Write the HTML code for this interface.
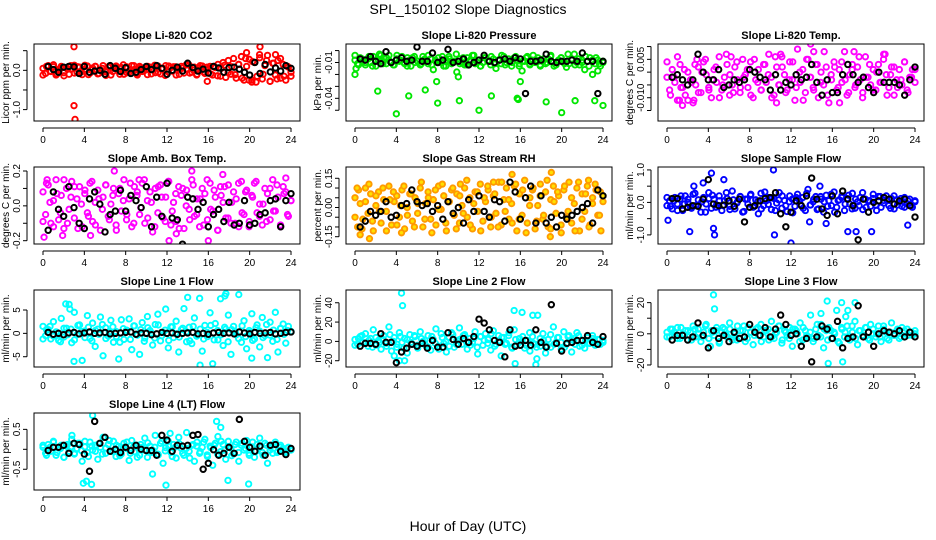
<!DOCTYPE html>
<html><head><meta charset="utf-8"><style>
body{margin:0;background:#fff}
svg{display:block;font-family:"Liberation Sans",sans-serif}
</style></head><body>
<svg id="chart" width="936" height="540" viewBox="0 0 936 540" xmlns="http://www.w3.org/2000/svg">
<text x="468" y="14" text-anchor="middle" font-size="14">SPL_150102  Slope Diagnostics</text>
<text x="468" y="531" text-anchor="middle" font-size="14">Hour of Day (UTC)</text>
</svg>
<script>
const xTicks=[0,4,8,12,16,20,24];
// Panel 1 CO2
const co2Vals=[0.05,-0.08,0.12,-0.03,0.09,-0.12,0.02,0.1,-0.06,0.07,-0.1,0.04,0.13,-0.05,0.08,-0.11,0.03,0.11,-0.07,0.06,0.1,-0.09,0.01,0.12,-0.04,0.08,-0.12,0.05,0.11,-0.02,0.07,-0.1,0.09,-0.05,0.12,0.02,-0.08,0.1,-0.03,0.06,-0.11,0.08,0.03,-0.06,0.11,-0.09,0.05,0.12,-0.04,0.07,0.09,-0.12,0.04,0.1,-0.07,0.02,0.13,-0.05,0.08,-0.1,0.06,0.11,-0.08,0.03,0.1,-0.12,0.07,0.15,-0.15,0.2,-0.18,0.25,-0.1,0.3,-0.2,0.15,0.35,-0.25,0.1,0.28,-0.3,0.2,-0.15,0.32,-0.22,0.12,0.38,-0.28,0.18,-0.12,0.25,-0.2,0.15,-0.25,0.08,-0.15];
const co2Vals2=[-0.12,0.1,-0.02,0.14,-0.09,0.06,-0.14,0.03,0.12,-0.07,0.09,-0.04,0.13,-0.11,0.01,0.1,-0.08,0.05,-0.13,0.11,-0.03,0.08,-0.1,0.14,-0.06,0.02,0.12,-0.12,0.07,-0.01,0.1,-0.09,0.13,-0.05,0.04,-0.13,0.11,-0.02,0.09,-0.1,0.06,0.14,-0.07,0.01,-0.12,0.12,-0.04,0.08,-0.09,0.1,-0.14,0.05,0.13,-0.06,0.09,-0.11,0.15,-0.2,0.3,-0.25,0.22,-0.3,0.4,-0.1,0.25,-0.28,0.18,-0.22,0.3,-0.15,0.1,-0.05];
const co2OutHours=[3.0,3.0,3.1,21.0,15.9,22.5,19.7,20.2];
const co2OutVals=[0.6,-0.9,-1.25,0.6,-0.28,0.4,0.45,-0.25];
const co2Black=[0.1,0.02,-0.05,0.08,0.1,0.09,-0.08,0.1,-0.05,-0.02,0,-0.1,0.12,0.05,-0.03,0.07,-0.08,-0.05,0.02,0.1,0.02,0.12,0.05,-0.1,0,0.08,-0.02,0.18,0.07,-0.02,0.03,-0.07,0.1,0.06,-0.05,0.07,0.08,0.03,-0.05,-0.12,0.2,-0.08,0.15,-0.04,0.06,-0.02,0.12,0.05];
// Panel 2 Pressure
const presVals=[-0.008,-0.011,-0.006,-0.009,-0.012,-0.007,-0.01,-0.005,-0.013,-0.008,-0.009,-0.006,-0.011,-0.004,-0.01,-0.012,-0.007,-0.009,-0.005,-0.011,-0.013,-0.008,-0.006,-0.01,-0.009,-0.012,-0.005,-0.008,-0.011,-0.007,-0.016,-0.009,-0.006,-0.01,-0.013,-0.008,-0.005,-0.011,-0.009,-0.018,-0.007,-0.01,-0.012,-0.006,-0.009,-0.004,-0.011,-0.008,-0.013,-0.01,-0.006,-0.009,-0.012,-0.007,-0.015,-0.008,-0.011,-0.005,-0.01,-0.009,-0.013,-0.006,-0.008,-0.011,-0.017,-0.009,-0.005,-0.012,-0.008,-0.01,-0.006,-0.013,-0.009,-0.011,-0.007,-0.004,-0.01,-0.012,-0.008,-0.006,-0.009,-0.014,-0.011,-0.007,-0.003,-0.01,-0.012,-0.008,-0.016,-0.009,-0.006,-0.02,-0.011,-0.008,-0.013,-0.01];
const presVals2=[-0.004,-0.012,-0.007,-0.01,-0.005,-0.013,-0.008,-0.003,-0.011,-0.006,-0.009,-0.012,-0.004,-0.008,-0.01,-0.006,-0.013,-0.005,-0.009,-0.011,-0.007,-0.004,-0.012,-0.008,-0.01,-0.005,-0.013,-0.007,-0.009,-0.003,-0.011,-0.006,-0.012,-0.008,-0.004,-0.01,-0.013,-0.006,-0.009,-0.005,-0.011,-0.008,-0.004,-0.012,-0.007,-0.01,-0.005,-0.013,-0.009,-0.006,-0.011,-0.004,-0.008,-0.012,-0.007,-0.01,-0.005,-0.013,-0.009,-0.006,-0.011,-0.003,-0.008,-0.012,-0.007,-0.01,-0.005,-0.013,-0.008,-0.006,-0.011,-0.009];
const presOutHours=[0,0.1,2.2,4,5.2,6.8,7.9,8,10,10.1,12,13.2,15.7,15.8,16,18.5,20,21.3,23.2,24,2.5,23.5];
const presOutVals=[-0.02,-0.015,-0.034,-0.053,-0.038,-0.033,-0.026,-0.044,-0.022,-0.042,-0.05,-0.038,-0.04,-0.041,-0.026,-0.043,-0.052,-0.042,-0.042,-0.046,-0.004,-0.017];
const presBlack=[-0.007,-0.008,-0.005,-0.009,-0.011,-0.001,-0.01,-0.008,-0.006,-0.009,-0.008,0.003,-0.009,-0.009,-0.002,-0.01,-0.008,0.001,-0.01,-0.009,-0.007,-0.012,-0.01,-0.008,-0.004,-0.009,-0.01,-0.008,-0.007,-0.009,-0.006,-0.007,-0.036,-0.009,-0.009,-0.008,-0.003,-0.009,-0.01,-0.009,-0.009,-0.008,-0.009,-0.002,-0.009,-0.009,-0.036,-0.009];
// Panel 3 Li-820 Temp
const tempVals=[-0.002,-0.007,0.001,-0.004,-0.011,0.003,-0.006,-0.009,0,-0.003,-0.012,-0.005,0.002,-0.008,0.004,-0.001,-0.006,-0.01,0.001,-0.004,0.006,-0.007,-0.002,0.003,-0.009,-0.005,0.002,-0.003,-0.008,0.005,-0.001,-0.006,0.004,-0.01,-0.003,0.001,-0.007,0.003,-0.004,0.007,-0.002,-0.009,0.002,-0.005,0.006,-0.001,-0.007,0.004,-0.003,-0.011,0.009,-0.004,0.001,-0.008,0.005,-0.002,-0.006,0.003,-0.01,0,-0.005,0.002,-0.012,-0.003,0.004,-0.007,0.001,-0.004,0.008,-0.009,-0.001,0.003,-0.006,0.002,-0.003,-0.008,0.006,-0.002,-0.005,0.001,-0.007,0.003,-0.004,0.007,-0.001,-0.006,0.002,-0.009,-0.003,0.001,-0.005,0.004,-0.007,-0.002,0.001,-0.004];
const tempVals2=[0.004,-0.009,-0.002,0.006,-0.006,0.001,-0.011,-0.004,0.003,-0.008,0,0.005,-0.007,-0.003,0.002,-0.01,-0.005,0.007,-0.001,-0.008,0.004,-0.006,-0.002,0.001,-0.009,0.005,-0.004,-0.007,0.003,-0.001,-0.01,0.006,-0.005,0.002,-0.008,-0.003,0.004,-0.006,0,-0.011,0.005,-0.002,-0.007,0.003,-0.004,0.008,-0.009,-0.001,0.002,-0.006,0.004,-0.003,-0.008,0.001,-0.005,0.006,-0.01,-0.002,0.003,-0.007,0,-0.004,0.005,-0.009,-0.001,0.002,-0.006,-0.003,0.004,-0.008,-0.002,0.001];
const tempOutHours=[1.5,1.2,2.9,13.9,6.2,14.2,10.6,16.7,18.1,21.1,11.0,2.6];
const tempOutVals=[-0.013,-0.011,0.005,0.011,0.006,0.008,-0.012,-0.012,0.008,0.007,0.007,-0.011];
const tempBlack=[-0.002,-0.001,-0.003,-0.005,-0.003,0.007,0,-0.003,-0.003,0.001,-0.006,-0.005,-0.003,-0.004,-0.003,0.001,0,-0.002,-0.003,-0.007,-0.001,-0.007,-0.004,-0.005,-0.001,-0.003,-0.002,0.003,-0.004,-0.009,-0.003,-0.008,-0.008,-0.001,0.003,-0.001,-0.004,-0.002,-0.006,-0.008,0,-0.004,-0.004,-0.004,-0.005,-0.009,-0.003,0.002];
// Panel 4 Amb Box Temp
const ambVals=[0.08,-0.05,0.12,-0.1,0.03,0.15,-0.08,0.06,-0.13,0.1,-0.02,0.14,-0.07,0.04,0.11,-0.12,0.07,-0.04,0.13,-0.09,0.02,0.09,-0.14,0.05,0.12,-0.06,0.01,0.1,-0.11,0.07,-0.03,0.15,-0.08,0.04,-0.12,0.11,0.06,-0.05,0.13,-0.1,0.03,0.08,-0.15,0.1,-0.04,0.12,-0.07,0.05,0.14,-0.11,0.02,-0.09,0.11,0.06,-0.13,0.09,-0.02,0.15,-0.06,0.04,-0.12,0.1,0.07,-0.08,0.13,-0.03,0.05,-0.14,0.11,0.02,-0.07,0.12,-0.1,0.08,0.04,-0.12,0.14,-0.05,0.09,-0.09,0.06,0.13,-0.04,0.01,-0.11,0.1,0.07,-0.08,0.15,-0.03,0.05,-0.12,0.11,0.08,-0.06,0.03];
const ambVals2=[-0.09,0.13,0.02,-0.12,0.07,-0.04,0.15,-0.1,0.05,0.11,-0.13,0.01,0.09,-0.06,0.14,-0.11,0.04,-0.02,0.12,-0.08,0.06,-0.14,0.1,0.03,-0.05,0.13,-0.1,0.08,-0.01,0.15,-0.07,0.02,-0.12,0.11,0.05,-0.09,0.14,-0.03,0.07,-0.13,0.1,0,-0.08,0.12,-0.05,0.04,-0.11,0.15,-0.02,0.09,-0.14,0.06,0.11,-0.07,0.02,-0.1,0.13,-0.04,0.08,-0.12,0.05,0.14,-0.06,0.01,-0.09,0.1,-0.03,0.12,-0.11,0.07,-0.05,0.03];
const ambOutHours=[0.1,6.9,12.2,14.4,16,17.4,12.9,23.5,9.3,4.6,0.4,1.9];
const ambOutVals=[-0.18,0.2,-0.2,0.2,-0.2,0.18,-0.16,0.16,0.15,-0.17,0.15,-0.17];
const ambBlack=[-0.14,0.08,-0.02,-0.06,0.11,-0.01,-0.1,-0.13,0.04,0.08,0.01,-0.15,-0.05,-0.03,0.09,-0.03,0.06,0.03,-0.01,0.11,-0.12,0.05,-0.06,0.13,-0.07,-0.08,-0.22,0.05,0.04,-0.02,0.02,-0.12,-0.05,-0.02,-0.09,0.02,-0.11,-0.1,0.03,-0.11,-0.1,-0.05,-0.04,0.03,0.04,-0.12,0.03,0.07];
// Panel 5 Gas Stream RH
const rhVals=[0.05,-0.1,0.02,-0.06,0.1,-0.03,0.07,-0.12,0.01,0.08,-0.08,0.04,-0.02,0.11,-0.09,0.03,0.06,-0.05,0.09,-0.11,0,0.07,-0.07,0.05,-0.03,0.1,-0.1,0.02,0.08,-0.06,0.04,-0.09,0.11,-0.01,0.06,-0.12,0.03,0.09,-0.04,0.07,-0.08,0.01,0.1,-0.05,0.05,-0.11,0.08,-0.02,0.12,-0.07,0.03,0.09,-0.1,0.06,-0.03,0.13,-0.09,0.04,0.1,-0.06,0.02,0.11,-0.12,0.07,-0.04,0.14,-0.08,0.05,0.09,-0.11,0.01,0.12,-0.06,0.08,-0.1,0.04,0.11,-0.03,0.06,-0.13,0.09,-0.05,0.13,-0.08,0.02,0.1,-0.12,0.07,-0.02,0.11,-0.09,0.05,0.12,-0.04,0.08,0.03];
const rhVals2=[-0.05,0.09,-0.11,0.03,0.12,-0.07,0.06,-0.02,0.1,-0.12,0.04,0.08,-0.09,0.01,0.11,-0.04,0.07,-0.1,0.02,0.13,-0.06,0.05,-0.13,0.09,-0.01,0.12,-0.08,0.03,0.1,-0.11,0.06,-0.03,0.14,-0.09,0.02,0.08,-0.12,0.05,0.11,-0.05,0.07,-0.1,0.13,-0.02,0.04,-0.08,0.12,-0.06,0.09,-0.13,0.01,0.1,-0.07,0.06,-0.04,0.14,-0.11,0.03,0.08,-0.09,0.11,-0.02,0.05,-0.12,0.13,-0.06,0.07,-0.1,0.02,0.09,-0.04,0.06];
const rhOutHours=[0.5,1.4,4.5,10.2,13.4,15.2,19,18.9,22.6,23.8,0.2];
const rhOutVals=[-0.14,-0.16,-0.13,0.12,0.13,0.17,0.18,-0.15,0.14,-0.12,0.1];
const rhBlack=[-0.1,-0.07,-0.02,-0.04,-0.02,0.03,-0.05,-0.04,0.01,0.02,0.09,0.03,0.01,0.02,-0.02,0.01,-0.06,0.03,-0.03,0,-0.08,0.04,-0.02,0.06,-0.02,-0.05,0.04,0.03,-0.07,0.13,0.08,-0.06,0.05,0.11,-0.08,0.06,-0.08,-0.05,-0.1,-0.04,-0.06,-0.04,-0.02,0,0.02,-0.08,0.09,0.06];
// Panel 6 Sample Flow
const sfVals=[-0.1,0.05,-0.2,0.15,-0.05,0.1,-0.25,0.2,0,-0.15,0.25,-0.1,0.08,-0.3,0.15,-0.05,0.3,-0.18,0.1,-0.08,0.2,-0.25,0.05,0.12,-0.12,0.35,-0.2,0.02,0.18,-0.3,0.1,-0.05,0.22,-0.15,0.08,-0.35,0.28,-0.1,0.05,0.15,-0.22,0.12,-0.02,0.3,-0.18,0.06,-0.28,0.2,0.1,-0.12,0.25,-0.05,0.15,-0.25,0.4,-0.08,0.02,0.18,-0.2,0.1,-0.3,0.22,0.05,-0.1,0.32,-0.15,0.08,0.2,-0.25,0.12,-0.05,0.28,-0.18,0.02,0.15,-0.22,0.1,0.05,-0.12,0.25,-0.08,0.18,-0.15,0.06,0.2,-0.1,0.12,-0.2,0.08,0.02,-0.12,0.15,-0.05,0.1,-0.15,0.05];
const sfVals2=[0.15,-0.12,0.05,-0.25,0.2,-0.05,0.1,-0.18,0.28,-0.08,0.02,-0.3,0.12,0.22,-0.15,0.05,-0.1,0.3,-0.22,0.08,-0.02,0.18,-0.28,0.1,0.25,-0.12,0.04,-0.2,0.32,-0.06,0.14,-0.25,0.08,0.2,-0.1,0.02,-0.32,0.15,0.05,-0.18,0.28,-0.08,0.1,-0.22,0.18,0.02,-0.12,0.25,-0.3,0.06,0.15,-0.05,0.22,-0.2,0.1,-0.1,0.3,-0.15,0.05,0.12,-0.25,0.18,-0.02,0.08,-0.18,0.2,-0.08,0.12,-0.15,0.05,-0.1,0.02];
const sfOutHours=[2.2,2.6,4.3,4.5,4.6,10.3,10.4,12,13.8,14.8,15.4,17.5,18.3,19.8,23.3,0.1,5.5,3.5];
const sfOutVals=[-0.9,0.5,0.9,-0.8,-1.0,1.0,-1.0,-1.25,-0.6,0.5,-0.65,-0.9,-0.9,-0.9,-0.7,-0.55,0.7,0.6];
const sfBlack=[0.12,0.12,-0.2,-0.15,-0.1,-0.12,0.1,0.7,-0.05,-0.1,-0.08,0.05,-0.12,0.1,-0.6,-0.15,-0.1,0.05,0.12,0.15,0.3,-0.35,-0.75,-0.3,0.05,-0.1,0.2,0.75,0.1,-0.2,-0.4,0.2,-0.35,0.35,0.1,-0.1,-1.15,0.1,-0.3,0,0.05,0.15,0.1,-0.05,0.05,0.1,-0.1,-0.45];
// Panel 7 Line 1
const l1Vals=[1.5,-0.5,0.8,-1.2,2.5,0.3,-1.5,3.2,-0.8,1.1,6.2,-2,4.5,-0.3,1.8,-5.8,0.5,3.8,-1.1,2.2,-2.8,0.9,3.5,-4.8,1.2,-0.6,2.8,-1.9,0.4,-5.5,2.9,-1.3,0.7,3.1,-3.5,1.6,-0.2,-4.5,2.3,-1,3.6,0.6,-2.5,1.9,4.1,-1.6,0.2,5.2,-3.1,1.4,-0.9,2.6,-4,0.8,5.3,-1.8,1.3,-2.2,3.3,-0.4,7.5,-3.8,1.7,-0.7,4.4,-6.5,2.1,-1.4,7.4,-2.6,0.9,3.9,-4.5,1.5,-0.3,8.3,-1.9,2.7,-3.3,0.6,4.2,-1.2,1.8,-2.9,3.4,-0.5,-5.2,2.4,-1.7,4.5,-4,1.1,2,-2.1,1.5,0.4];
const l1Vals2=[-1.2,0.8,1.5,-0.6,0.2,-1.8,1.1,-0.3,0.9,-1.4,1.7,0.4,-0.9,1.3,-1.6,0.6,-0.2,1.9,-1.1,0.3,1.4,-0.7,-1.9,1,0.5,-1.3,1.6,-0.4,0.8,-1.7,1.2,0.1,-1,1.8,-0.5,0.7,-1.5,1.4,-0.1,-0.8,1.1,0.3,-1.6,1.5,-0.6,0.9,-1.2,0.2,1.7,-1.4,0.6,-0.3,1.3,-1.8,0.8,0.4,-1.1,1.6,-0.7,0.2,-1.5,1.2,0.5,-0.9,1.9,-0.4,0.7,-1.3,1,-0.2,0.6,0.3];
const l1OutHours=[2.2,2.6,3,15.2,17.6,17.7,14,20.2];
const l1OutVals=[6.3,5.2,-6,-6.8,8,8.5,7.7,-5.3];
const l1Black=[0.2,-0.2,0,-0.3,0.1,0.2,-0.1,0.1,0.3,0,0.1,0.2,-0.1,0,0.1,0.2,0.3,-0.2,0.1,0,-0.3,-0.1,0.2,0,0.1,-0.2,0,0.1,0.2,-0.1,0,-0.2,0.1,0.2,0,0.1,-0.1,0.3,0.1,-0.1,0.2,0,0.1,0.2,-0.1,0,0.2,0.3];
// Panel 8 Line 2
const l2Vals=[2,-3,5,-1,8,-5,3,12,-4,1,-8,6,-2,15,-10,4,-6,9,-1,3,-12,7,-3,5,-7,10,0,-4,6,-9,2,13,-5,8,-2,-11,4,9,-6,1,14,-3,7,-8,3,-1,10,-13,5,-4,8,2,-9,11,-3,6,-15,4,-2,9,-6,12,-4,3,30,-7,1,-10,5,-3,27,-5,8,-12,2,-6,15,-1,4,-8,10,-3,6,-11,3,9,-5,1,-7,4,-2,6,-4,2,-3,1];
const l2Vals2=[-4,3,6,-2,1,-6,4,-1,2,-5,7,0,-3,5,-7,2,-1,6,-4,3,1,-6,5,-2,-8,4,0,-5,7,-3,2,6,-1,-4,3,-6,5,1,-2,8,-5,0,4,-3,6,-7,2,-1,5,-4,9,-2,-6,3,1,-5,7,-3,4,-1,-6,5,2,-3,6,-4,1,-2,3,-3,2,-1];
const l2OutHours=[4.5,4.6,4.8,15.4,15.5,17.2,17.5,17.6,4.3,3.8];
const l2OutVals=[50,37,-20,32,-23,27,-24,-18,-20,-15];
const l2Black=[-5,-2,-2,-3,8,-1,-1,-22,-11,-7,-3,-5,-2,-7,1,-6,-6,9,2,-3,3,-1,5,23,19,12,1,-1,-16,12,-5,-4,1,-4,12,-1,-6,38,-2,-10,-2,-1,1,1,6,-1,-3,5];
// Panel 9 Line 3
const l3Vals=[1,-2,3,-1,4,-3,0,2,-4,1,5,-2,3,-5,1,6,-3,2,-1,4,-6,1,3,-2,7,-4,0,5,-3,2,-5,4,1,-7,3,-1,6,-2,2,-4,8,-3,1,5,-6,2,-1,4,-8,3,0,7,-4,2,-2,12,-5,3,-1,6,-9,2,4,-3,1,15,-6,3,-2,5,-4,1,8,-7,2,-1,4,-3,6,0,-2,5,-5,3,1,-4,7,-1,2,-3,4,-2,3,1,-1,2];
const l3Vals2=[-2,3,1,-3,4,-1,2,-4,3,0,-2,5,-3,1,2,-5,4,-1,3,-2,-4,2,5,-3,1,-1,4,-5,2,3,-2,0,5,-4,1,-3,3,2,-5,4,-1,1,-3,6,-2,3,-4,2,0,-5,4,1,-2,5,-3,2,-1,4,-4,3,0,-2,5,-3,1,-1,3,-2,2,-1,1,0];
const l3OutHours=[4.5,4.6,14.9,15.5,15.6,16.9,17,17.5,17.3,18.2,4.2];
const l3OutVals=[25,16,13,21,-19,20,-18,15,11,20,-8];
const l3Black=[-4,-1,-1,-4,-2,7,-1,-9,2,-3,-1,-5,1,-3,-2,6,1,-1,4,-2,3,12,6,-1,0,-8,-3,-18,-2,5,3,-3,8,-9,-3,-2,18,-2,1,-8,0,2,1,0,2,-2,1,-2];
// Panel 10 Line 4
const l4Vals=[0.05,-0.1,0.12,-0.05,0.2,-0.15,0.03,0.1,-0.2,0.08,-0.05,0.25,-0.12,0.02,0.15,-0.3,0.06,-0.08,0.18,-0.02,0.1,-0.25,0.05,0.3,-0.1,0.12,-0.04,0.2,-0.18,0.07,-0.12,0.15,0.02,-0.28,0.22,-0.06,0.1,-0.15,0.05,0.28,-0.2,0.08,-0.02,0.35,-0.12,0.15,-0.35,0.04,0.2,-0.08,0.12,-0.22,0.3,0.02,-0.15,0.42,-0.05,0.1,-0.3,0.18,-0.1,0.05,0.25,-0.18,0.08,-0.4,0.15,0.32,-0.06,0.12,-0.25,0.2,0.03,-0.12,0.18,-0.3,0.1,-0.02,0.22,-0.15,0.06,-0.2,0.12,0.28,-0.08,0.15,-0.35,0.05,-0.1,0.18,-0.05,0.1,0.02,-0.08,0.05,-0.02];
const l4Vals2=[0.1,-0.15,0.05,0.18,-0.08,0.02,-0.2,0.12,0.06,-0.1,0.15,-0.03,0.2,-0.18,0.08,-0.05,0.14,-0.12,0.03,0.22,-0.06,0.1,-0.16,0.04,0.18,-0.1,0.07,-0.2,0.12,-0.02,0.16,-0.08,0.05,-0.14,0.2,-0.04,0.1,-0.18,0.06,0.14,-0.1,0.02,-0.22,0.12,0.08,-0.06,0.18,-0.14,0.04,0.1,-0.12,0.2,-0.02,0.06,-0.16,0.12,-0.08,0.15,0.02,-0.1,0.18,-0.05,0.08,-0.15,0.1,-0.02,0.12,-0.08,0.05,-0.06,0.03,0];
const l4OutHours=[3.9,4.2,4.8,4.7,10.6,11.9,16.8,17.2,17.9,19.9,2.8,12.3];
const l4OutVals=[-0.85,-0.8,0.85,-0.88,-0.62,-0.9,0.7,0.55,-0.78,-0.87,0.35,0.4];
const l4Black=[-0.03,0.05,0.05,0.1,-0.1,0.15,0.12,-0.12,-0.55,0.7,0.15,0.3,-0.05,0,-0.08,0.05,-0.03,0.1,0,-0.03,-0.03,-0.15,0.35,0.23,-0.05,0.1,0.08,0.1,0.35,0.37,-0.5,-0.35,-0.01,-0.15,-0.1,0.05,-0.1,0.75,0.2,0.05,-0.05,0.08,-0.15,0.1,0.12,-0.05,-0.13,0.02];

const panels=[
 {name:'co2',title:'Slope Li-820 CO2',ylab:'Licor ppm per min.',col:0,row:0,lo:-1.29,hi:0.67,ticks:[-1,-0.5,0,0.5],labels:[[-1,'-1.0'],[0,'0.0']],color:'#ff0000',vals:co2Vals,vals2:co2Vals2,oh:co2OutHours,ov:co2OutVals,black:co2Black},
 {name:'pressure',title:'Slope Li-820 Pressure',ylab:'kPa per min.',col:1,row:0,lo:-0.059,hi:0.0055,ticks:[0,-0.01,-0.02,-0.03,-0.04,-0.05],labels:[[-0.01,'-0.01'],[-0.04,'-0.04']],color:'#00e600',vals:presVals,vals2:presVals2,oh:presOutHours,ov:presOutVals,black:presBlack},
 {name:'li820-temp',title:'Slope Li-820 Temp.',ylab:'degrees C per min.',col:2,row:0,lo:-0.0191,hi:0.011,ticks:[0.01,0.005,0,-0.005,-0.01,-0.015],labels:[[0.005,'0.005'],[-0.01,'-0.010']],color:'#ff00ff',vals:tempVals,vals2:tempVals2,oh:tempOutHours,ov:tempOutVals,black:tempBlack},
 {name:'amb-box-temp',title:'Slope Amb. Box Temp.',ylab:'degrees C per min.',col:0,row:1,lo:-0.219,hi:0.223,ticks:[-0.2,-0.1,0,0.1,0.2],labels:[[-0.2,'-0.2'],[0,'0.0'],[0.2,'0.2']],color:'#ff00ff',vals:ambVals,vals2:ambVals2,oh:ambOutHours,ov:ambOutVals,black:ambBlack},
 {name:'gas-stream-rh',title:'Slope Gas Stream RH',ylab:'percent per min.',col:1,row:1,lo:-0.1875,hi:0.208,ticks:[-0.15,-0.1,-0.05,0,0.05,0.1,0.15],labels:[[-0.15,'-0.15'],[0,'0.00'],[0.15,'0.15']],color:'#ff9a00',fill:'#ffe000',vals:rhVals,vals2:rhVals2,oh:rhOutHours,ov:rhOutVals,black:rhBlack},
 {name:'sample-flow',title:'Slope Sample Flow',ylab:'ml/min per min.',col:2,row:1,lo:-1.28,hi:1.09,ticks:[-1,-0.5,0,0.5,1],labels:[[-1,'-1.0'],[0,'0.0'],[1,'1.0']],color:'#0000ff',vals:sfVals,vals2:sfVals2,oh:sfOutHours,ov:sfOutVals,black:sfBlack},
 {name:'line1-flow',title:'Slope Line 1 Flow',ylab:'ml/min per min.',col:0,row:2,lo:-7.2,hi:9.28,ticks:[-5,0,5],labels:[[-5,'-5'],[0,'0'],[5,'5']],color:'#00ffff',vals:l1Vals,vals2:l1Vals2,oh:l1OutHours,ov:l1OutVals,black:l1Black},
 {name:'line2-flow',title:'Slope Line 2 Flow',ylab:'ml/min per min.',col:1,row:2,lo:-26.5,hi:53.2,ticks:[-20,0,20,40],labels:[[-20,'-20'],[0,'0'],[20,'20'],[40,'40']],color:'#00ffff',vals:l2Vals,vals2:l2Vals2,oh:l2OutHours,ov:l2OutVals,black:l2Black},
 {name:'line3-flow',title:'Slope Line 3 Flow',ylab:'ml/min per min.',col:2,row:2,lo:-21.3,hi:28.1,ticks:[-20,-10,0,10,20],labels:[[-20,'-20'],[0,'0'],[20,'20']],color:'#00ffff',vals:l3Vals,vals2:l3Vals2,oh:l3OutHours,ov:l3OutVals,black:l3Black},
 {name:'line4-flow',title:'Slope Line 4 (LT) Flow',ylab:'ml/min per min.',col:0,row:3,lo:-1.02,hi:0.91,ticks:[-0.5,0,0.5],labels:[[-0.5,'-0.5'],[0.5,'0.5']],color:'#00ffff',vals:l4Vals,vals2:l4Vals2,oh:l4OutHours,ov:l4OutVals,black:l4Black}
];

const svg=document.getElementById('chart');
const NS='http://www.w3.org/2000/svg';
function mk(tag,attrs,parent){const e=document.createElementNS(NS,tag);for(const k in attrs)e.setAttribute(k,attrs[k]);parent.appendChild(e);return e;}

panels.forEach(p=>{
  const L=[34,346,658][p.col], T=[44,167,290,413][p.row], W=266, H=77;
  const xs=h=>L+9+h*(248/24);
  const ys=v=>T+H-(v-p.lo)/(p.hi-p.lo)*H;
  const g=mk('g',{},svg);
  
  
  const t=mk('text',{x:L+W/2,y:T-5,'text-anchor':'middle','font-size':'11','font-weight':'bold'},g);
  t.textContent=p.title;
  
  
  const cid='clip-'+p.name;
  const cp=mk('clipPath',{id:cid},g);
  mk('rect',{x:L,y:T,width:W,height:H},cp);
  const pts=mk('g',{'clip-path':'url(#'+cid+')'},g);
  
  
  [p.vals,p.vals2].forEach(arr=>{
    const n=arr.length;
    arr.forEach((v,i)=>{
      const c=mk('circle',{cx:xs(i*24/(n-1)),cy:ys(v),r:2.7,fill:p.fill||'none',stroke:p.color,'stroke-width':1.9},pts);
      
      
    });
  });
  p.oh.forEach((h,i)=>{
    const c=mk('circle',{cx:xs(h),cy:ys(p.ov[i]),r:2.7,fill:p.fill||'none',stroke:p.color,'stroke-width':1.9},pts);
    
    
  });
  p.black.forEach((v,i)=>{
    const c=mk('circle',{cx:xs(0.5*(i+1)),cy:ys(v),r:2.7,fill:'none',stroke:'#000','stroke-width':2},pts);
    
    
  });
  const box=mk('rect',{x:L,y:T,width:W,height:H,fill:'none',stroke:'#000','stroke-width':1},g);
  
  
  const xa=mk('g',{},g);
  
  
  mk('line',{x1:xs(0),x2:xs(24),y1:T+H+7,y2:T+H+7,stroke:'#000'},xa);
  xTicks.forEach(h=>{
    mk('line',{x1:xs(h),x2:xs(h),y1:T+H+7,y2:T+H+11,stroke:'#000'},xa);
    const tl=mk('text',{x:xs(h),y:T+H+22,'text-anchor':'middle','font-size':'10'},xa);
    tl.textContent=h;
    
    
  });
  const ya=mk('g',{},g);
  
  
  const tv=p.ticks.map(ys);
  mk('line',{x1:L-7,x2:L-7,y1:Math.min(...tv),y2:Math.max(...tv),stroke:'#000'},ya);
  tv.forEach(y=>mk('line',{x1:L-11,x2:L-7,y1:y,y2:y,stroke:'#000'},ya));
  p.labels.forEach(([v,s])=>{
    const y=ys(v);
    const tl=mk('text',{x:L-14,y:y,'text-anchor':'middle','font-size':'10',transform:'rotate(-90 '+(L-14)+' '+y+')'},ya);
    tl.textContent=s;
    
    
  });
  const yt=mk('text',{x:L-25,y:T+H/2,'text-anchor':'middle','font-size':'10',transform:'rotate(-90 '+(L-25)+' '+(T+H/2)+')'},g);
  yt.textContent=p.ylab;
  
  
});
</script>
</body></html>
